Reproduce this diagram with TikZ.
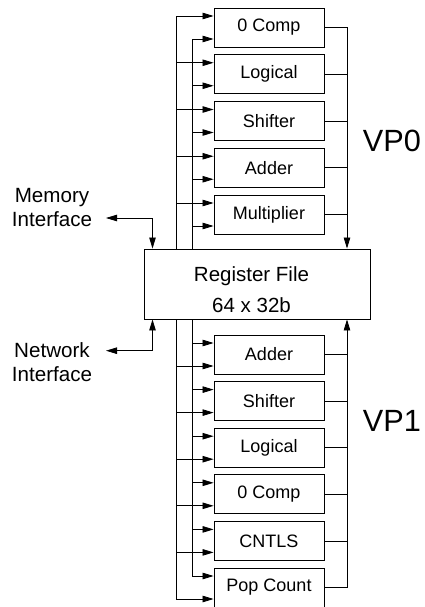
\documentclass[tikz,border=0pt]{standalone}
\usepackage{fontspec}
\setmainfont{Liberation Sans}
\usetikzlibrary{arrows.meta}
\begin{document}
\begin{tikzpicture}[x=1pt,y=-1pt,
  unitbox/.style={draw, line width=0.9pt, minimum width=110pt, minimum height=39pt, inner sep=0pt, font=\fontsize{18}{20}\selectfont},
  wire/.style={line width=0.8pt},
  tip/.tip={Triangle[length=11pt,width=6.5pt]},
  arr/.style={wire, -tip},
  dblarr/.style={wire, tip-tip},
  iflabel/.style={align=center, inner sep=0pt, font=\fontsize{20.6}{24}\selectfont},
  vplabel/.style={inner sep=0pt, font=\fontsize{30.7}{34}\selectfont},
]
\useasboundingbox (0,0) rectangle (425,607);

% bus positions
\coordinate (obus) at (176,0);
\coordinate (ibus) at (192,0);
\coordinate (rbus) at (347,0);

% register file
\node[draw, line width=0.9pt, minimum width=226pt, minimum height=70pt, inner sep=0pt] (rf) at (257,284) {};
\node[align=center, inner sep=0pt, font=\fontsize{20.5}{31}\selectfont] (rftext) at (251.5,289.7) {Register File\\64 x 32b};

% VP0 units
\foreach \nm/\lab/\cy in {t1/0 Comp/27.5, t2/Logical/74.25, t3/Shifter/121, t4/Adder/167.75, t5/Multiplier/214.5}{
  \node[unitbox] (\nm) at (269,\cy) {\lab};
  \draw[arr] ([yshift=11.5pt]\nm.west -| obus) -- ([yshift=11.5pt]\nm.west);
  \draw[arr] ([yshift=-11.5pt]\nm.west -| ibus) -- ([yshift=-11.5pt]\nm.west);
  \draw[wire] (\nm.east) -- (\nm.east -| rbus);
}
\draw[wire] (rf.north -| obus) -- ([yshift=11.5pt]t1.west -| obus);
\draw[wire] (rf.north -| ibus) -- ([yshift=-11.5pt]t1.west -| ibus);
\draw[arr] (t1.east -| rbus) -- (rf.north -| rbus);

% VP1 units
\foreach \nm/\lab/\cy in {b1/Adder/354.5, b2/Shifter/401.1, b3/Logical/447.7, b4/0 Comp/494.3, b5/CNTLS/540.9, b6/Pop Count/587.5}{
  \node[unitbox] (\nm) at (269,\cy) {\lab};
  \draw[arr] ([yshift=11.5pt]\nm.west -| ibus) -- ([yshift=11.5pt]\nm.west);
  \draw[arr] ([yshift=-11.5pt]\nm.west -| obus) -- ([yshift=-11.5pt]\nm.west);
  \draw[wire] (\nm.east) -- (\nm.east -| rbus);
}
\draw[wire] (rf.south -| ibus) -- ([yshift=11.5pt]b6.west -| ibus);
\draw[wire] (rf.south -| obus) -- ([yshift=-11.5pt]b6.west -| obus);
\draw[arr] (b6.east -| rbus) -- (rf.south -| rbus);

% labels
\node[vplabel] (vp0) at (392,140.5) {VP0};
\node[vplabel] (vp1) at (392,420.5) {VP1};

% interfaces
\node[iflabel] (mem) at (52,207.5) {Memory\\Interface};
\node[iflabel] (net) at (52,362.5) {Network\\Interface};
\coordinate (memtip) at (106,218);
\coordinate (memj) at (152.5,218);
\coordinate (nettip) at (106,350.7);
\coordinate (netj) at (152.5,350.7);
\draw[dblarr] (memtip) -- (memj) -- (memj |- rf.north);
\draw[dblarr] (nettip) -- (netj) -- (netj |- rf.south);
\end{tikzpicture}
\end{document}
